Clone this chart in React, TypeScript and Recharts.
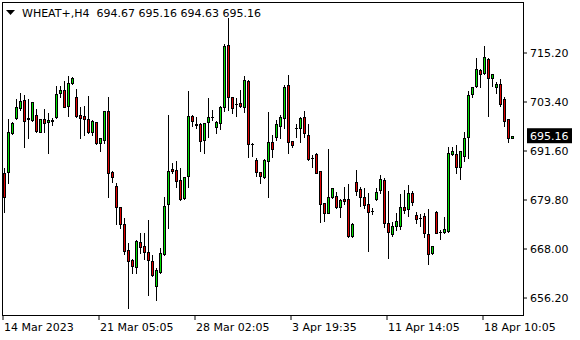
import { ComposedChart, Bar, XAxis, YAxis, ReferenceLine } from 'recharts';

// WHEAT+ H4 candles
const opens = [
  686.3, 686.5, 695.9, 699.5, 702.0, 703.9, 699.3, 699.1, 700.3, 696.2, 699.3, 698.6, 698.9, 699.8, 705.6, 706.3,
  702.4, 708.0, 704.6, 700.3, 700.0, 699.3, 696.2, 698.6, 693.5, 694.3, 701.2, 686.5, 683.2, 678.1, 674.0, 667.8,
  665.4, 663.7, 669.7, 668.7, 667.3, 665.1, 659.1, 662.5, 666.8, 678.8, 687.3, 687.0, 684.6, 680.3, 685.6, 700.0,
  697.9, 698.1, 694.3, 698.6, 699.7, 697.4, 698.3, 702.2, 717.1, 704.6, 703.0, 703.2, 702.2, 708.5, 693.3, 689.4,
  686.5, 685.3, 689.2, 693.8, 695.0, 697.6, 699.5, 707.5, 694.0, 697.1, 697.1, 699.8, 695.5, 689.9, 690.9, 686.8,
  679.1, 676.7, 680.5, 680.8, 678.1, 680.0, 680.0, 671.1, 684.1, 682.4, 680.5, 678.8, 677.2, 680.0, 682.2, 684.6,
  674.3, 671.6, 673.5, 673.6, 678.1, 677.6, 681.5, 676.2, 675.5, 675.9, 671.6, 667.0, 676.9, 672.1, 672.1, 672.3,
  690.9, 690.9, 687.7, 690.4, 695.0, 705.3, 707.3, 711.1, 710.4, 713.8, 709.2, 707.0, 707.7, 704.1, 699.3, 694.67,
];
const highs = [
  687.5, 699.3, 698.6, 704.1, 705.6, 705.1, 704.1, 703.5, 701.7, 699.4, 701.7, 700.8, 699.5, 707.3, 707.3, 708.5,
  709.7, 709.4, 706.5, 702.2, 702.4, 704.8, 699.1, 698.7, 694.8, 701.3, 704.6, 686.8, 683.9, 678.2, 675.5, 669.4,
  665.6, 670.2, 671.8, 671.9, 675.0, 666.6, 663.4, 668.2, 680.5, 700.3, 688.7, 689.2, 687.5, 685.4, 706.1, 700.3,
  699.8, 698.4, 698.4, 704.4, 701.5, 698.8, 702.4, 717.4, 723.6, 704.7, 704.4, 706.3, 709.6, 708.8, 693.6, 689.9,
  686.6, 689.7, 701.0, 695.5, 699.1, 700.3, 707.5, 709.9, 694.1, 698.1, 699.8, 701.2, 698.1, 690.6, 691.2, 686.9,
  679.2, 692.1, 682.8, 681.7, 680.0, 682.9, 683.7, 674.3, 687.0, 682.9, 682.7, 681.5, 677.9, 682.7, 685.8, 685.1,
  682.0, 674.5, 676.7, 681.3, 682.2, 683.4, 682.0, 676.9, 676.4, 676.7, 677.6, 668.8, 677.1, 672.6, 675.7, 692.6,
  692.6, 693.0, 691.7, 696.2, 706.1, 707.1, 714.0, 711.4, 716.9, 714.0, 710.2, 708.2, 709.0, 704.6, 699.4, 695.16,
];
const lows = [
  676.9, 683.9, 695.7, 699.3, 701.5, 692.6, 694.7, 698.8, 696.2, 696.1, 696.2, 691.1, 697.9, 699.5, 704.6, 702.1,
  700.0, 707.7, 699.9, 694.7, 695.5, 695.9, 695.5, 693.3, 691.6, 693.5, 680.5, 684.1, 674.0, 673.1, 666.8, 653.8,
  662.2, 662.2, 667.0, 665.6, 656.9, 661.5, 655.7, 662.2, 666.6, 673.1, 686.3, 682.9, 679.8, 680.0, 682.9, 697.6,
  697.1, 691.6, 691.1, 695.0, 699.1, 695.9, 696.9, 701.2, 701.5, 700.8, 700.0, 702.2, 701.0, 690.1, 690.4, 685.6,
  683.9, 685.1, 680.5, 690.1, 694.3, 694.7, 697.1, 691.1, 692.6, 695.0, 693.8, 695.0, 689.4, 687.7, 686.2, 674.5,
  674.7, 676.6, 680.4, 677.9, 675.7, 678.8, 670.9, 671.0, 681.0, 678.4, 677.9, 667.5, 676.4, 679.8, 681.5, 673.3,
  665.9, 671.1, 672.6, 672.8, 676.7, 675.9, 678.6, 674.3, 673.5, 670.9, 664.4, 666.9, 671.8, 670.4, 671.8, 672.1,
  690.6, 686.3, 684.9, 689.2, 689.9, 704.6, 707.0, 707.0, 710.1, 700.0, 707.3, 705.6, 702.4, 697.6, 693.8, 694.63,
];
const closes = [
  680.5, 696.2, 698.3, 702.2, 703.6, 698.8, 699.5, 703.4, 696.4, 699.2, 698.3, 699.1, 699.0, 705.3, 706.3, 702.2,
  708.0, 709.2, 700.0, 699.5, 699.3, 696.2, 698.8, 693.5, 694.7, 701.2, 686.3, 685.3, 678.1, 674.0, 667.5, 665.1,
  663.9, 669.9, 668.5, 667.3, 665.4, 661.7, 662.9, 667.0, 678.4, 686.8, 686.8, 684.4, 680.0, 685.3, 700.0, 698.8,
  698.0, 694.0, 698.3, 699.8, 699.9, 698.6, 702.2, 716.9, 704.6, 702.0, 702.9, 702.4, 708.7, 693.3, 693.4, 686.5,
  685.6, 689.4, 693.8, 692.1, 698.1, 699.8, 707.0, 693.8, 693.0, 697.2, 699.5, 695.9, 689.7, 690.0, 686.3, 678.8,
  676.7, 680.5, 682.7, 678.1, 679.8, 679.6, 671.1, 674.0, 682.0, 680.5, 678.6, 676.9, 677.1, 681.7, 684.9, 674.3,
  672.1, 673.6, 674.7, 678.1, 677.4, 681.5, 679.3, 675.2, 675.4, 671.9, 666.8, 668.7, 671.9, 672.2, 672.8, 691.1,
  691.6, 687.7, 691.6, 694.7, 705.1, 707.0, 711.3, 710.1, 714.2, 709.2, 710.1, 707.7, 702.9, 698.8, 694.7, 695.16,
];

const timeTickIndex = [0, 24, 48, 72, 96, 120];
const timeTickLabels = ['14 Mar 2023', '21 Mar 05:05', '28 Mar 02:05', '3 Apr 19:35', '11 Apr 14:05', '18 Apr 10:05'];
const priceTicks = [656.2, 668.0, 679.8, 691.6, 703.4, 715.2];
const priceDomain = [651.87, 727.24];
const symbolLabel = 'WHEAT+,H4';

const FONT = '"DejaVu Sans", sans-serif';
const BULL = '#00e000';
const BEAR = '#e00000';

const candles = opens.map((open, i) => ({
  i,
  open,
  high: highs[i],
  low: lows[i],
  close: closes[i],
}));
const last = candles[candles.length - 1];

function Candle(props: any) {
  const { x, y, width, height, payload } = props;
  const { open, high, low, close } = payload;
  const top = Math.min(y, y + height);
  const span = Math.abs(height);
  const k = high > low ? span / (high - low) : 0;
  const py = (p: number) => top + (high - p) * k;
  const cx = Math.round(x + width / 2);
  const bodyTop = Math.round(py(Math.max(open, close)));
  const bodyBot = Math.round(py(Math.min(open, close)));
  const up = close >= open;
  return (
    <g shapeRendering="crispEdges">
      <line
        x1={cx + 0.5}
        x2={cx + 0.5}
        y1={Math.round(py(high))}
        y2={Math.round(py(low)) + 1}
        stroke="#000"
      />
      {bodyBot - bodyTop < 1 ? (
        <line x1={cx - 1} x2={cx + 2} y1={bodyTop + 0.5} y2={bodyTop + 0.5} stroke="#000" />
      ) : (
        <rect
          x={cx - 0.5}
          y={bodyTop + 0.5}
          width={2}
          height={bodyBot - bodyTop}
          fill={up ? BULL : BEAR}
          stroke="#000"
        />
      )}
    </g>
  );
}

function TimeTick({ x, y, payload }: any) {
  const n = timeTickIndex.indexOf(payload.value);
  return (
    <text x={x + 1} y={y + 9} textAnchor="start" fontSize={11} fontFamily={FONT} fill="#000">
      {n >= 0 ? timeTickLabels[n] : ''}
    </text>
  );
}

function LastPriceTag({ viewBox }: any) {
  const right = viewBox.x + viewBox.width;
  return (
    <g>
      <rect x={right + 4} y={viewBox.y - 8} width={45} height={15} fill="#000" />
      <text x={right + 7} y={viewBox.y + 4} fontSize={11} fontFamily={FONT} fill="#fff">
        {last.close.toFixed(2)}
      </text>
    </g>
  );
}

export default function App() {
  return (
    <div style={{ position: 'relative', width: 580, height: 340, background: '#fff' }}>
      <style>{'body{margin:0}'}</style>
      <ComposedChart
        width={580}
        height={340}
        data={candles}
        margin={{ top: 3, right: 0, bottom: 0, left: 1 }}
      >
        <XAxis
          dataKey="i"
          type="category"
          height={24}
          padding={{ left: 0, right: 10 }}
          ticks={timeTickIndex}
          interval={0}
          axisLine={false}
          tickLine={{ stroke: '#000' }}
          tickSize={4}
          tickMargin={2}
          tick={<TimeTick />}
        />
        <YAxis
          orientation="right"
          type="number"
          width={57}
          domain={priceDomain}
          allowDataOverflow
          ticks={priceTicks}
          axisLine={false}
          tickLine={{ stroke: '#000' }}
          tickSize={4}
          tickMargin={3}
          tickFormatter={(v) => Number(v).toFixed(2)}
          tick={{ fill: '#000', fontSize: 11, fontFamily: FONT }}
        />
        <Bar
          dataKey={(d: any) => [d.low, d.high]}
          barSize={3}
          shape={<Candle />}
          isAnimationActive={false}
        />
        <ReferenceLine y={last.close} stroke="none" label={<LastPriceTag />} />
      </ComposedChart>
      <svg
        width={580}
        height={340}
        style={{ position: 'absolute', left: 0, top: 0, pointerEvents: 'none' }}
      >
        <rect x={2.5} y={2.5} width={521} height={313} fill="none" stroke="#000" shapeRendering="crispEdges" />
        <polygon points="6,10 15,10 10.5,15" fill="#000" />
        <text x={22} y={17} fontSize={11} fontFamily={FONT} fill="#000" style={{ whiteSpace: 'pre' }}>
          {`${symbolLabel}  ${last.open.toFixed(2)} ${last.high.toFixed(2)} ${last.low.toFixed(2)} ${last.close.toFixed(2)}`}
        </text>
      </svg>
    </div>
  );
}
